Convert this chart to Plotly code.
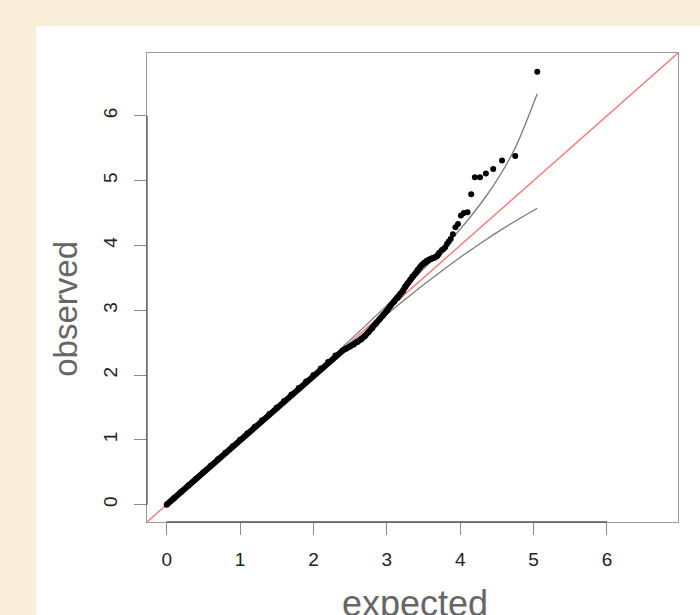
import plotly.graph_objects as go

# Bulk of the QQ points (expected, observed)
bulk_expected = [0.0, 0.1, 0.2, 0.3, 0.4, 0.5, 0.6, 0.7, 0.8, 0.9, 1.0, 1.1, 1.2, 1.3, 1.4, 1.5,
                 1.6, 1.7, 1.8, 1.9, 2.0, 2.1, 2.2, 2.3, 2.4, 2.45, 2.5, 2.55, 2.6, 2.65, 2.7,
                 2.75, 2.8, 2.85, 2.9, 2.95, 3.0, 3.05, 3.1, 3.15, 3.18, 3.22, 3.25, 3.28, 3.32,
                 3.35, 3.39, 3.42, 3.45, 3.48, 3.51, 3.54, 3.57, 3.6, 3.62, 3.65, 3.68, 3.7, 3.72]
bulk_observed = [0.0, 0.1, 0.2, 0.3, 0.4, 0.5, 0.6, 0.7, 0.8, 0.9, 1.0, 1.1, 1.2, 1.3, 1.4, 1.5,
                 1.6, 1.7, 1.8, 1.9, 2.0, 2.1, 2.2, 2.3, 2.38, 2.41, 2.44, 2.47, 2.51, 2.55, 2.6,
                 2.66, 2.72, 2.79, 2.86, 2.92, 2.99, 3.07, 3.13, 3.19, 3.24, 3.3, 3.36, 3.41, 3.47,
                 3.52, 3.57, 3.62, 3.66, 3.7, 3.73, 3.76, 3.78, 3.79, 3.8, 3.81, 3.83, 3.86, 3.89]

# Top (most significant) points
tail_expected = [3.75, 3.77, 3.795, 3.82, 3.845, 3.87, 3.90, 3.935, 3.97, 4.01, 4.05, 4.10,
                 4.15, 4.20, 4.27, 4.35, 4.45, 4.57, 4.75, 5.05]
tail_observed = [3.93, 3.94, 3.97, 4.02, 4.06, 4.10, 4.17, 4.28, 4.33, 4.46, 4.50, 4.51,
                 4.79, 5.05, 5.05, 5.11, 5.18, 5.31, 5.38, 6.68]

# 90% confidence band
band_x = [2.4, 2.572, 3.05, 3.35, 3.748, 4.05, 4.35, 4.572, 4.748, 5.05]
band_upper = [2.435, 2.615, 3.128, 3.465, 3.927, 4.316, 4.754, 5.136, 5.50, 6.34]
band_lower = [2.367, 2.533, 2.984, 3.259, 3.604, 3.854, 4.087, 4.25, 4.373, 4.573]

ticks = [0, 1, 2, 3, 4, 5, 6]
axis_range = [-0.268, 6.968]

BEIGE = "#f7edd8"

fig = go.Figure()

fig.add_trace(go.Scatter(x=[-1, 8], y=[-1, 8], mode="lines",
                         line=dict(color="#f47f7f", width=1.5), hoverinfo="skip"))
fig.add_trace(go.Scatter(x=band_x, y=band_upper, mode="lines", line_shape="spline",
                         line=dict(color="#7a7a7a", width=1.3)))
fig.add_trace(go.Scatter(x=band_x, y=band_lower, mode="lines", line_shape="spline",
                         line=dict(color="#7a7a7a", width=1.3)))
fig.add_trace(go.Scatter(x=bulk_expected, y=bulk_observed, mode="lines+markers",
                         line=dict(color="black", width=6),
                         marker=dict(color="black", size=6)))
fig.add_trace(go.Scatter(x=tail_expected, y=tail_observed, mode="markers",
                         marker=dict(color="black", size=6)))

font_family = "Liberation Sans, Arial, sans-serif"

axis_common = dict(
    range=axis_range, tickvals=ticks, ticktext=[str(t) for t in ticks],
    showgrid=False, zeroline=False, showline=True, mirror=True,
    linecolor="#9a9a9a", linewidth=1.3,
    ticks="outside", ticklen=12, tickcolor="#8a8a8a", tickwidth=1.3,
    tickfont=dict(family=font_family, size=19, color="#222222"),
)

fig.update_layout(
    width=700, height=615,
    margin=dict(l=147, r=22, t=53, b=93, pad=0),
    paper_bgcolor=BEIGE, plot_bgcolor="white",
    showlegend=False,
    xaxis=dict(**axis_common, ticklabelstandoff=8),
    yaxis=dict(**axis_common, tickangle=-90, ticklabelstandoff=9),
    shapes=[
        dict(type="rect", xref="paper", yref="paper", x0=-0.209, x1=1.05, y0=-0.25, y1=1.0576,
             fillcolor="white", line=dict(width=0), layer="below"),
        dict(type="line", xref="x", yref="paper", x0=0, x1=6, y0=0, y1=0,
             line=dict(color="#555555", width=1.3)),
        dict(type="line", xref="paper", yref="y", x0=0, x1=0, y0=0, y1=6,
             line=dict(color="#555555", width=1.3)),
    ],
    annotations=[
        dict(text="expected", xref="paper", yref="paper", x=0.505, y=-0.125, yanchor="top",
             showarrow=False, font=dict(family=font_family, size=36, color="#666666")),
        dict(text="observed", xref="paper", yref="paper", x=-0.155, y=0.454, textangle=-90,
             xanchor="center", yanchor="middle", showarrow=False,
             font=dict(family=font_family, size=33, color="#666666")),
    ],
)

fig.write_html(
    "out.html",
    config={"displayModeBar": False},
    post_script="document.body.style.margin='0';document.body.style.background='" + BEIGE + "';"
                "document.body.style.overflow='hidden';",
)
